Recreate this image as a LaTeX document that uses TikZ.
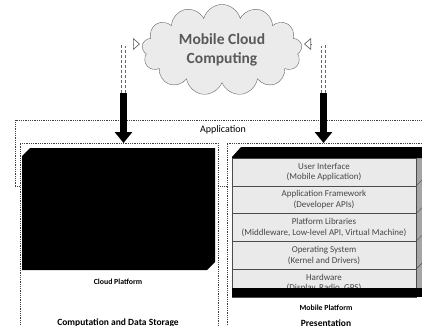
\documentclass[tikz,border=0pt]{standalone}
\usepackage{fontspec}
\setmainfont{Carlito}
\usetikzlibrary{shapes.symbols,arrows.meta}
\definecolor{layergray}{RGB}{234,234,234}
\definecolor{sidegray}{RGB}{165,165,165}
\definecolor{textgray}{RGB}{70,70,70}

\tikzset{
  platbox/.style={draw=black!75,densely dotted,line width=0.8pt,inner sep=0pt,outer sep=0pt,anchor=north west},
  layerbox/.style={draw=black!70,fill=layergray,line width=0.5pt,minimum width=184pt,minimum height=27.8pt,inner sep=0pt,outer sep=0pt,anchor=north west,align=center,text=textgray,font=\fontsize{9}{10.5}\selectfont},
  barlink/.style={line width=7pt,-{Triangle[length=11pt,width=17pt]}},
  hollowlink/.style={draw=black!60,densely dashed,line width=0.7pt,double=white,double distance=3.5pt},
  hollowtip/.style={draw=black!60,line width=0.7pt,-{Triangle[open,length=7pt,width=12pt]}},
  caption/.style={font=\bfseries\fontsize{7.8}{9}\selectfont},
  subcaption/.style={font=\bfseries\fontsize{9.5}{11}\selectfont}
}

\begin{document}
\begin{tikzpicture}[x=1pt,y=-1pt]
\useasboundingbox (0,0) rectangle (422,325);

% cloud
\node[cloud,cloud puffs=13,aspect=1.9,draw=black!60,fill=black!8,minimum width=160pt,minimum height=86pt,align=center,text=black!65,font=\bfseries\fontsize{15.5}{19}\selectfont] (mcc) at (222,50) {Mobile Cloud\\Computing};
\coordinate (cinl) at (140,44);
\coordinate (cinr) at (304,44);

% application box
\node[platbox,minimum width=415pt,minimum height=66pt] (app) at (15,120) {};
\node[font=\fontsize{10}{12}\selectfont] (applbl) at (223,130) {Application};

% platform boxes
\node[platbox,fill=white,minimum width=198pt,minimum height=190pt] (cloudplat) at (20,143) {};
\node[platbox,fill=white,minimum width=205pt,minimum height=190pt] (mobplat) at (227,143) {};

% cloud platform
\fill (30,148) -- (215,148) -- (215,262) -- (207,270) -- (22,270) -- (22,156) -- cycle;
\node[caption] (cplbl) at (118,282) {Cloud Platform};
\node[subcaption] (cpsub) at (118,323) {Computation and Data Storage};

% mobile platform stack
\fill[sidegray] (416,152) rectangle (430,297);
\foreach \ttl/\sub [count=\i from 0] in {User Interface/Mobile Application, Application Framework/Developer APIs, Platform Libraries/{Middleware, Low-level API, Virtual Machine}, Operating System/Kernel and Drivers, Hardware/{Display, Radio, GPS}}
  \node[layerbox] (layer\i) at (232,158+27.8*\i) {\ttl\\(\sub)};
\foreach \i in {1,...,4}
  \draw[black!70] (layer\i.north east) -- ++(6,-6);

% top and bottom bars
\fill (232,158) -- (232,157) -- (241,147) -- (430,147) -- (430,158) -- cycle;
\fill (232,288) rectangle (430,297);
\node[caption] (mplbl) at (326,308) {Mobile Platform};
\node[subcaption] (mpsub) at (326,323) {Presentation};

% links to the cloud
\coordinate (cl) at (123.5,93);
\coordinate (cr) at (323.5,93);
\draw[hollowlink] (cl) |- ([xshift=-6pt]cinl);
\draw[hollowlink] (cr) |- ([xshift=6pt]cinr);
\draw[hollowtip] ([xshift=-7pt]cinl) -- (cinl);
\draw[hollowtip] ([xshift=7pt]cinr) -- (cinr);
\draw[barlink] (cl) -- (cl |- cloudplat.north);
\draw[barlink] (cr) -- (cr |- mobplat.north);
\end{tikzpicture}
\end{document}
